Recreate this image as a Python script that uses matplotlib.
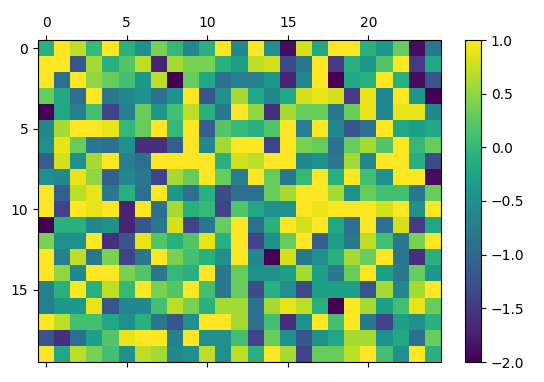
import numpy as np
import matplotlib
matplotlib.use('Agg')
import matplotlib.pyplot as plt

# values, 20 rows x 25 columns
row00 = [-0.1, 1.0, 0.7, 0.0, 1.0, -0.1, -0.5, 0.4, 0.0, -0.6, -0.1, 1.0, -0.6, 1.0, -0.5, -1.9, 0.8, -0.2, 1.0, 1.0, -0.1, -0.4, 0.3, -1.9, -0.8]
row01 = [1.0, 1.0, -1.2, 0.6, -0.1, 0.2, 0.7, -1.7, 0.6, 0.4, 0.4, -0.1, -0.3, 0.7, 0.8, -1.3, -0.8, 1.0, -1.5, -0.1, -0.4, 0.2, 1.0, -1.5, -0.2]
row02 = [1.0, -0.9, 1.0, 0.5, 0.3, 0.1, -0.4, 0.7, -2.0, 0.3, -0.2, -0.9, -0.7, -0.7, -0.4, -1.7, -0.6, 1.0, -2.0, -0.2, -0.1, 1.0, -0.1, -1.9, -1.2]
row03 = [0.3, -0.2, -0.9, 1.0, -0.8, -0.6, -0.5, -0.9, -0.5, 1.0, -1.2, -0.5, 0.6, -0.2, -0.6, -0.2, 0.8, 0.9, 0.8, -1.5, 0.9, -0.6, 1.0, -0.4, -2.0]
row04 = [-2.0, -0.2, -0.7, 0.1, -1.4, -0.7, 0.3, -0.4, 0.1, 0.7, -0.1, -0.8, 1.0, 0.5, -1.6, 0.6, 0.3, 0.3, -0.8, 0.3, 0.9, -0.6, 0.9, 0.9, -0.6]
row05 = [-0.6, 0.6, 1.0, 1.0, 0.9, 0.0, 0.3, 1.0, 0.0, 1.0, -1.1, 0.2, 0.0, -0.1, 0.2, 1.0, -0.7, 1.0, -0.6, -1.2, -0.9, 1.0, -0.2, -0.3, -0.2]
row06 = [-0.5, 0.9, 0.3, -0.8, -0.9, -0.5, -1.6, -1.6, -1.1, 1.0, -0.6, 0.6, 1.0, 1.0, -1.4, 1.0, 0.4, 0.3, -0.9, 0.3, 0.6, 0.2, 1.0, 0.0, 0.3]
row07 = [-1.1, 0.8, -0.5, 0.6, 1.0, -0.7, -0.9, 1.0, 1.0, 1.0, 1.0, -0.1, 0.8, 0.7, 1.0, 1.0, -0.6, -0.5, -0.8, 0.6, -0.6, 1.0, 1.0, -0.1, -1.3]
row08 = [-0.5, -0.6, 0.9, 0.5, -1.1, -0.6, -0.8, -1.4, 0.6, 0.3, 1.0, 0.3, -0.7, 1.0, 0.3, -0.8, 0.0, 1.0, -0.1, 1.0, 0.1, -0.5, 1.0, 1.0, -1.9]
row09 = [1.0, -1.1, 0.7, 0.9, -0.8, -0.1, -0.9, 1.0, -0.4, -0.9, -0.1, -1.3, -0.9, -0.9, 0.3, 0.6, 1.0, 1.0, 0.6, -0.5, 0.3, 0.1, 0.1, -0.8, 0.3]
row10 = [1.0, -1.4, 1.0, 0.9, 1.0, -1.7, 1.0, -0.9, 0.6, -0.1, 0.0, -1.4, 0.2, -0.2, -0.5, -0.5, 1.0, 0.9, 1.0, 1.0, 1.0, 0.8, 1.0, -0.5, 1.0]
row11 = [-2.0, -0.1, -0.1, -0.6, -0.5, -1.7, -1.2, -0.8, 0.8, -1.4, -0.8, 0.3, 1.0, -0.9, -0.1, 1.0, 0.8, 1.0, -0.2, -0.9, 1.0, -0.9, 0.8, -1.5, -0.2]
row12 = [0.4, -0.5, -0.5, 1.0, -1.6, -1.2, 0.9, 0.2, -0.1, 0.2, 0.9, -0.1, 1.0, -1.4, -0.5, 0.3, 1.0, -1.1, -0.3, -0.8, 0.7, 0.1, -0.8, 0.4, 1.0]
row13 = [1.0, -0.7, 0.7, -0.8, 0.4, -1.4, -0.8, 1.0, 0.4, 0.1, -0.1, -0.5, 1.0, -0.6, -2.0, 0.8, -0.8, -0.5, -0.1, 0.6, 0.3, 1.0, -0.8, -1.6, -0.1]
row14 = [1.0, 0.5, -0.6, 1.0, 1.0, 0.4, 0.2, -0.8, 0.0, -0.1, 1.0, -0.8, 0.3, -0.5, -0.5, -0.3, 0.6, -0.3, -0.8, 0.3, 1.0, -0.3, -0.8, 0.3, -0.4]
row15 = [-0.7, -0.1, 1.0, -0.1, 0.7, 0.0, 1.0, 0.4, 0.2, 1.0, 0.1, -0.8, 0.3, -1.3, -0.1, -0.5, -1.3, -0.3, -0.3, -0.3, -1.2, 0.6, -0.6, 0.6, 1.0]
row16 = [-0.7, -0.4, -0.4, 0.9, -1.2, -0.6, -0.6, 0.1, 0.7, 0.4, -0.1, 0.6, 0.6, -0.9, 0.6, 0.9, 0.7, -0.1, -2.0, 1.0, 0.6, -0.3, 0.1, 0.9, 0.3]
row17 = [1.0, 0.7, 0.1, 0.1, -0.2, -0.5, -0.1, -0.8, -1.2, -0.5, 1.0, 1.0, 0.6, -0.9, 0.1, -1.6, -0.5, 1.0, 0.1, 1.0, -0.8, -1.4, -0.3, -0.5, -0.1]
row18 = [-1.2, -1.6, -0.9, -0.3, 0.2, 0.9, 1.0, 1.0, -0.7, 1.0, -0.5, -0.5, 0.1, -1.4, 0.3, -0.5, -1.2, -0.5, -0.2, 0.6, 0.6, -0.5, -0.2, -0.9, 0.3]
row19 = [1.0, -0.2, 0.7, 0.4, 0.1, -0.5, 0.7, 0.6, -0.6, -0.5, 0.7, -0.5, 0.7, -0.1, 1.0, 0.6, -1.4, 0.3, 0.3, 0.7, 1.0, 0.1, -0.5, 1.0, -0.1]

data = np.array([row00, row01, row02, row03, row04, row05, row06, row07, row08, row09,
                 row10, row11, row12, row13, row14, row15, row16, row17, row18, row19])

fig = plt.figure(figsize=(5.44, 3.82), dpi=100)
ax = fig.add_axes([38 / 544, 1 - 362 / 382, 403 / 544, 322 / 382])
im = ax.matshow(data, cmap='viridis', vmin=-2, vmax=1, aspect='auto')
ax.set_xticks([0, 5, 10, 15, 20])
ax.set_yticks([0, 5, 10, 15])

cax = fig.add_axes([465 / 544, 1 - 362 / 382, 16 / 544, 322 / 382])
cb = fig.colorbar(im, cax=cax)
cb.set_ticks([1.0, 0.5, 0.0, -0.5, -1.0, -1.5, -2.0])

fig.savefig('out.png', dpi=100)
